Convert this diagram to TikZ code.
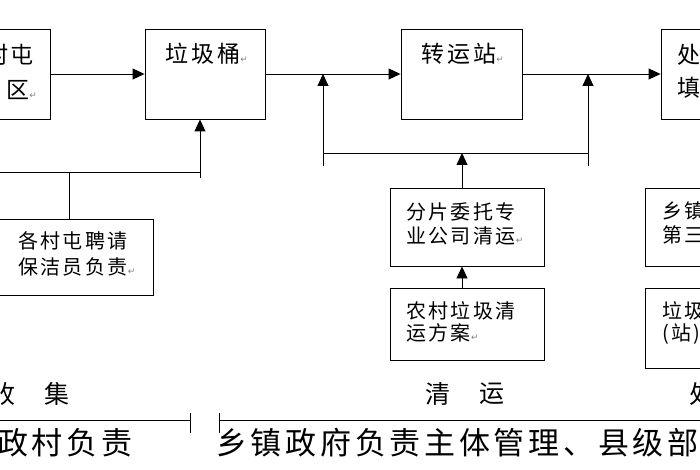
\documentclass[tikz,border=0pt]{standalone}
\usepackage{fontspec}
\setmainfont[LetterSpace=12]{Noto Sans CJK SC}
\newfontfamily\symfont{DejaVu Sans}
\usetikzlibrary{arrows.meta,positioning,calc}

\newcommand{\pmark}{{\symfont\fontsize{9}{9}\selectfont\textcolor{gray}{↵}}}

\tikzset{
  box/.style={draw, line width=0.9pt, inner sep=0pt},
  toptxt/.style={font=\fontsize{23}{35}\selectfont, inner sep=0pt},
  boxtxt/.style={font=\fontsize{20}{24}\selectfont, align=left, inner sep=0pt, anchor=north west},
  stagetxt/.style={font=\fontsize{25}{25}\selectfont, inner sep=0pt},
  dutytxt/.style={font=\fontsize{31}{31}\selectfont, inner sep=0pt, anchor=west},
  arr/.style={-{Triangle[length=12pt,width=11pt]}, line width=0.9pt},
  ln/.style={line width=0.9pt},
}

\begin{document}
\begin{tikzpicture}[x=1pt, y=-1pt, >=Triangle]
    \useasboundingbox (0,0) rectangle (700,470);
    \clip (0,0) rectangle (700,470);

    % top row
    \node[box, minimum width=120pt, minimum height=90pt] (vil) at (-10,74) {};
    \node[box, minimum width=120pt, minimum height=90pt] (bin) at (205,74) {};
    \node[box, minimum width=121pt, minimum height=90pt] (trans) at (461.5,74) {};
    \node[box, minimum width=120pt, minimum height=90pt] (proc) at (721,74) {};

    \node[toptxt, anchor=east] (viltxtA) at (34,55) {村屯};
    \node[toptxt, anchor=east] (viltxtB) at (37,90) {区\pmark};
    \node[toptxt] (bintxt) at (207,54) {垃圾桶\pmark};
    \node[toptxt] (transtxt) at (463,54) {转运站\pmark};
    \node[toptxt, anchor=west] (proctxtA) at (677,55) {处};
    \node[toptxt, anchor=west] (proctxtB) at (677,88) {填};

    % lower boxes
    \node[box, minimum width=168pt, minimum height=76pt] (clean) at (69,257) {};
    \node[box, minimum width=154pt, minimum height=78pt] (firm) at (467,227) {};
    \node[box, minimum width=154pt, minimum height=72pt] (plan) at (467,324) {};
    \node[box, minimum width=150pt, minimum height=78pt] (town) at (720,227) {};
    \node[box, minimum width=150pt, minimum height=80pt] (stn) at (720,328) {};

    \node[boxtxt, font=\fontsize{20}{26}\selectfont] (cleantxt) at (18,231) {各村屯聘请\\保洁员负责\pmark};
    \node[boxtxt] (firmtxt) at (406,202) {分片委托专\\业公司清运\pmark};
    \node[boxtxt, font=\fontsize{20}{22}\selectfont] (plantxt) at (406,301) {农村垃圾清\\运方案\pmark};
    \node[boxtxt] (towntxt) at (662,202) {乡镇\\第三};
    \node[boxtxt, font=\fontsize{20}{22}\selectfont] (stntxt) at (662,301) {垃圾\\(站)};

    % joints
    \coordinate (jl) at (323,153);
    \coordinate (jr) at (588,153);
    \coordinate (jlb) at (323,166);
    \coordinate (jrb) at (588,166);
    \coordinate (kl) at (69,172);
    \coordinate (kr) at (200,172);
    \coordinate (krb) at (200,178);
    \coordinate (kfar) at (-5,172);

    \draw[arr] (vil.east) -- (bin.west);
    \draw[arr] (bin.east) -- (trans.west);
    \draw[arr] (trans.east) -- (proc.west);

    \draw[arr] (jlb) -- (jl |- bin.east);
    \draw[arr] (jrb) -- (jr |- trans.east);
    \draw[ln] (jl) -- (jr);
    \draw[arr] ([xshift=-5pt]firm.north) -- ([xshift=-5pt]firm.north |- jl);
    \draw[arr] ([xshift=-5pt]plan.north) -- ([xshift=-5pt]firm.south);

    \draw[ln] (clean.north) -- (kl);
    \draw[ln] (kfar) -- (kr);
    \draw[arr] (krb) -- (kr |- bin.south);

    % stages
    \node[stagetxt] (stA1) at (3,394) {收};
    \node[stagetxt] (stA2) at (57,394) {集};
    \node[stagetxt] (stB1) at (438,394) {清};
    \node[stagetxt] (stB2) at (492,394) {运};
    \node[stagetxt] (stC1) at (702,394) {处};

    \coordinate (bA0) at (-5,420);
    \coordinate (bA1) at (190,420);
    \coordinate (bB0) at (219,420);
    \coordinate (bB1) at (705,420);
    \draw[ln] (bA0) -- (bA1);
    \draw[ln] ([yshift=-13pt]bA1) -- ([yshift=7pt]bA1);
    \draw[ln] ([yshift=-13pt]bB0) -- ([yshift=7pt]bB0);
    \draw[ln] (bB0) -- (bB1);

    \node[dutytxt] (dutyA) at (-3,443) {政村负责};
    \node[dutytxt] (dutyB) at (216,443) {乡镇政府负责主体管理、县级部};
\end{tikzpicture}
\end{document}
